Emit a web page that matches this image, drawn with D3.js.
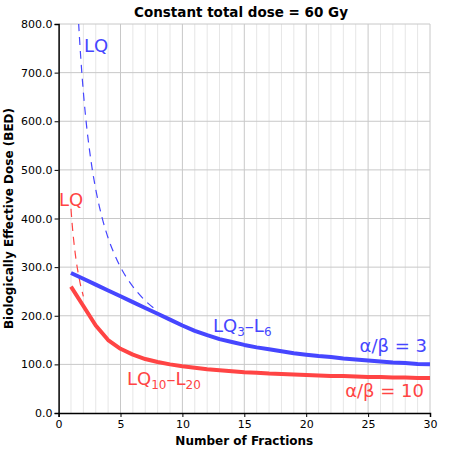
<!DOCTYPE html>
<html>
<head>
<meta charset="utf-8">
<script src="https://cdn.jsdelivr.net/npm/d3@7"></script>
<style>
  body { margin: 0; background: #fff; }
  text { font-family: "DejaVu Sans", sans-serif; }
</style>
</head>
<body>
<svg></svg>
<script>
// fractions 1..30
const fractions = [1,2,3,4,5,6,7,8,9,10,11,12,13,14,15,16,17,18,19,20,21,22,23,24,25,26,27,28,29,30];

// LQ3-L6 (alpha/beta = 3)
const bedBlue = [288,276,264,252,240,228,216,204,192,180,169,160,152,146,140,135,131,127,123,120,117,115,112,110,108,106,104,103,101,100];

// LQ10-L20 (alpha/beta = 10)
const bedRed = [260,220,180,150,132,120,111,105,100,96,93,90,88,86,84,83,81,80,79,78,77,76,76,75,74,74,73,73,72,72];

// pure LQ curves (dashed)
const lqBlueN   = [1.5, 1.6, 1.7, 1.8, 2.0, 2.25, 2.5, 2.75, 3.0, 3.5, 4.0, 4.5, 5.0, 5.5, 6.0, 7.0, 8.0];
const lqBlueBed = [860, 810, 766, 727, 660, 593, 540, 496, 460, 403, 360, 327, 300, 278, 260, 231, 210];
const lqRedN    = [1.0, 1.1, 1.2, 1.3, 1.4, 1.5, 1.6, 1.7, 1.8, 1.9, 2.0];
const lqRedBed  = [420, 387, 360, 337, 317, 300, 285, 272, 260, 250, 240];

const xTicks = [0, 5, 10, 15, 20, 25, 30];
const yTicks = [0, 100, 200, 300, 400, 500, 600, 700, 800];

const blue = "#4646ff";
const red = "#ff4444";

const margin = { top: 24, right: 20, bottom: 37, left: 58.6 };
const outerWidth = 450;
const outerHeight = 450;
const width = outerWidth - margin.left - margin.right;
const height = outerHeight - margin.top - margin.bottom;

const svg = d3.select("svg")
  .attr("width", outerWidth)
  .attr("height", outerHeight);

const g = svg.append("g")
  .attr("transform", `translate(${margin.left}, ${margin.top})`);

const x = d3.scaleLinear().domain([0, 30]).range([0, width]);
const y = d3.scaleLinear().domain([0, 800]).range([height, 0]);

// grid
g.append("g")
  .selectAll("line")
  .data(d3.range(1, 31))
  .enter()
  .append("line")
    .attr("x1", d => x(d)).attr("x2", d => x(d))
    .attr("y1", 0).attr("y2", height)
    .style("stroke", d => d % 5 === 0 ? "#c8c8c8" : "#e6e6e6")
    .style("stroke-width", 1);

g.append("g")
  .selectAll("line")
  .data(yTicks.slice(1))
  .enter()
  .append("line")
    .attr("x1", 0).attr("x2", width)
    .attr("y1", d => y(d)).attr("y2", d => y(d))
    .style("stroke", "#c8c8c8")
    .style("stroke-width", 1);

svg.append("clipPath").attr("id", "clip")
  .append("rect").attr("width", width).attr("height", height);

const plot = g.append("g").attr("clip-path", "url(#clip)");

const smooth = d3.line()
  .x(d => x(d[0]))
  .y(d => y(d[1]))
  .curve(d3.curveMonotoneX);

const straight = d3.line()
  .x(d => x(d[0]))
  .y(d => y(d[1]));

// dashed LQ
plot.append("path")
  .datum(lqBlueN.map((n, i) => [n, lqBlueBed[i]]))
  .attr("d", smooth)
  .style("fill", "none")
  .style("stroke", blue)
  .style("stroke-width", 1.2)
  .style("stroke-dasharray", "8,6");

plot.append("path")
  .datum(lqRedN.map((n, i) => [n, lqRedBed[i]]))
  .attr("d", smooth)
  .style("fill", "none")
  .style("stroke", red)
  .style("stroke-width", 1.2)
  .style("stroke-dasharray", "8,6");

// solid LQ-L
plot.append("path")
  .datum(fractions.map((n, i) => [n, bedBlue[i]]))
  .attr("d", straight)
  .style("fill", "none")
  .style("stroke", blue)
  .style("stroke-width", 4)
  .style("stroke-linejoin", "round");

plot.append("path")
  .datum(fractions.map((n, i) => [n, bedRed[i]]))
  .attr("d", straight)
  .style("fill", "none")
  .style("stroke", red)
  .style("stroke-width", 4)
  .style("stroke-linejoin", "round");

// axes
const xAxis = g.append("g")
  .attr("transform", `translate(0, ${height})`)
  .call(d3.axisBottom(x).tickValues(xTicks).tickSize(4).tickPadding(3));

const yAxis = g.append("g")
  .call(d3.axisLeft(y).tickValues(yTicks).tickFormat(d3.format(".1f")).tickSize(4).tickPadding(2));

[xAxis, yAxis].forEach(a => {
  a.select(".domain").style("stroke", "#000").style("stroke-width", 1.5);
  a.selectAll("text").style("font-family", "DejaVu Sans, sans-serif").style("font-size", "11px").style("fill", "#000");
});

// titles
svg.append("text")
  .attr("x", 241).attr("y", 17)
  .attr("text-anchor", "middle")
  .style("font-size", "13.5px").style("font-weight", "bold")
  .text("Constant total dose = 60 Gy");

svg.append("text")
  .attr("x", margin.left + width / 2).attr("y", 445)
  .attr("text-anchor", "middle")
  .style("font-size", "12px").style("font-weight", "bold")
  .text("Number of Fractions");

svg.append("text")
  .attr("transform", `translate(13, ${margin.top + height / 2}) rotate(-90)`)
  .attr("text-anchor", "middle")
  .style("font-size", "12px").style("font-weight", "bold")
  .text("Biologically Effective Dose (BED)");

// curve labels
const label = (px, py, color, anchor, parts) => {
  const t = svg.append("text")
    .attr("x", px).attr("y", py)
    .attr("text-anchor", anchor)
    .style("font-size", "18px")
    .style("fill", color);
  parts.forEach(p => {
    const s = t.append("tspan").text(p.t);
    if (p.sub) s.style("font-size", "12px").attr("dy", 4);
    else if (p.up) s.attr("dy", -4);
  });
};

label(84, 52, blue, "start", [{ t: "LQ" }]);
label(59, 206, red, "start", [{ t: "LQ" }]);
label(213, 332, blue, "start", [{ t: "LQ" }, { t: "3", sub: true }, { t: "–L", up: true }, { t: "6", sub: true }]);
label(127, 385, red, "start", [{ t: "LQ" }, { t: "10", sub: true }, { t: "–L", up: true }, { t: "20", sub: true }]);
label(427, 352, blue, "end", [{ t: "α/β = 3" }]);
label(424, 397, red, "end", [{ t: "α/β = 10" }]);
</script>
</body>
</html>
